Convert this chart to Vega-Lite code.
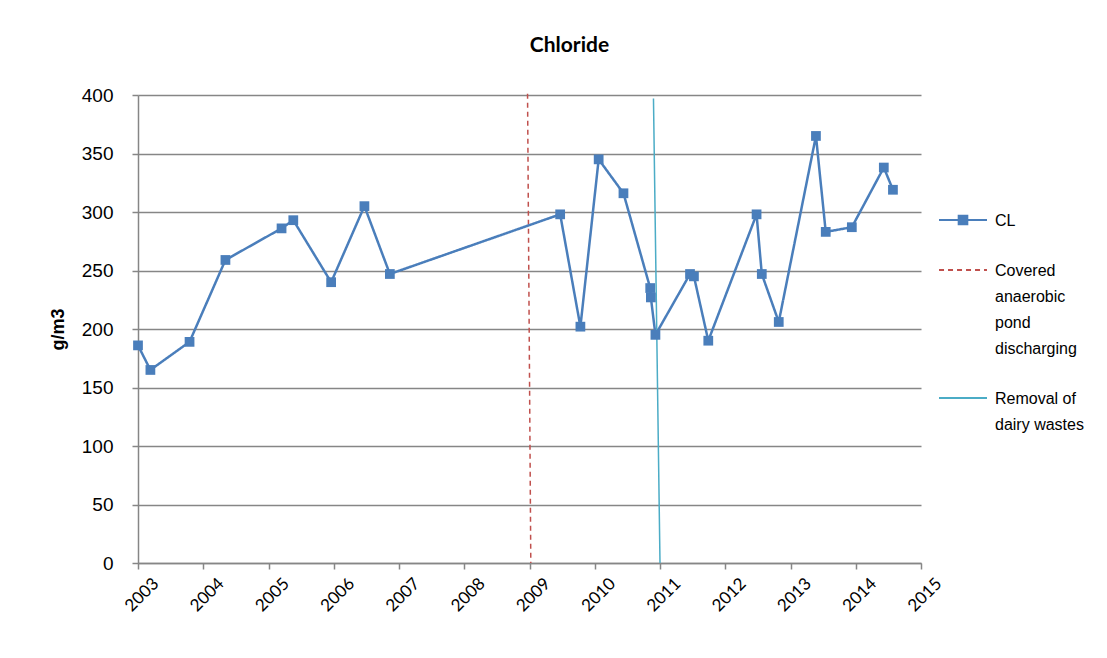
{
  "$schema": "https://vega.github.io/schema/vega-lite/v6.json",
  "autosize": {"type": "none"},
  "padding": {"left": 138, "top": 95, "right": 186, "bottom": 95},
  "width": 783,
  "height": 468,
  "background": "white",
  "title": {"text": "Chloride", "font": "Lato", "fontSize": 21, "fontWeight": "bold", "color": "#000000", "anchor": "middle", "dx": 40, "offset": 30},
  "config": {
    "view": {"stroke": null},
    "axis": {"gridColor": "#868686", "gridWidth": 1.5, "domainColor": "#868686", "domainWidth": 1.5, "tickColor": "#868686", "tickWidth": 1.5, "labelColor": "#000000", "titleColor": "#000000"}
  },
  "data": {
    "values": [
      {"date": 2003.0, "value": 186, "series": "CL"},
      {"date": 2003.19, "value": 165, "series": "CL"},
      {"date": 2003.79, "value": 189, "series": "CL"},
      {"date": 2004.34, "value": 259, "series": "CL"},
      {"date": 2005.2, "value": 286, "series": "CL"},
      {"date": 2005.38, "value": 293, "series": "CL"},
      {"date": 2005.96, "value": 240, "series": "CL"},
      {"date": 2006.47, "value": 305, "series": "CL"},
      {"date": 2006.86, "value": 247, "series": "CL"},
      {"date": 2009.47, "value": 298, "series": "CL"},
      {"date": 2009.78, "value": 202, "series": "CL"},
      {"date": 2010.06, "value": 345, "series": "CL"},
      {"date": 2010.44, "value": 316, "series": "CL"},
      {"date": 2010.85, "value": 235, "series": "CL"},
      {"date": 2010.86, "value": 227, "series": "CL"},
      {"date": 2010.93, "value": 195, "series": "CL"},
      {"date": 2011.46, "value": 247, "series": "CL"},
      {"date": 2011.52, "value": 245, "series": "CL"},
      {"date": 2011.74, "value": 190, "series": "CL"},
      {"date": 2012.48, "value": 298, "series": "CL"},
      {"date": 2012.56, "value": 247, "series": "CL"},
      {"date": 2012.82, "value": 206, "series": "CL"},
      {"date": 2013.39, "value": 365, "series": "CL"},
      {"date": 2013.54, "value": 283, "series": "CL"},
      {"date": 2013.94, "value": 287, "series": "CL"},
      {"date": 2014.43, "value": 338, "series": "CL"},
      {"date": 2014.57, "value": 319, "series": "CL"},
      {"date": 2009.02, "value": 0, "series": "Covered anaerobic pond discharging"},
      {"date": 2008.97, "value": 401, "series": "Covered anaerobic pond discharging"},
      {"date": 2011.0, "value": 0, "series": "Removal of dairy wastes"},
      {"date": 2010.9, "value": 397, "series": "Removal of dairy wastes"}
    ]
  },
  "encoding": {
    "x": {"field": "date", "type": "quantitative", "scale": {"domain": [2003, 2015], "nice": false, "zero": false},
      "axis": {"title": null, "grid": false, "values": [2003,2004,2005,2006,2007,2008,2009,2010,2011,2012,2013,2014,2015], "format": "d", "labelAngle": -45, "labelAlign": "right", "labelBaseline": "top", "labelFont": "Lato", "labelFontSize": 17, "tickSize": 6, "labelPadding": 6, "labelOffset": 12, "labelFlush": false, "labelOverlap": false}},
    "y": {"field": "value", "type": "quantitative", "scale": {"domain": [0, 400], "nice": false},
      "axis": {"title": "g/m3", "titleFont": "Liberation Sans", "titleFontSize": 18, "titleFontWeight": "bold", "titlePadding": 14, "values": [0,50,100,150,200,250,300,350,400], "labelFont": "Liberation Sans", "labelFontSize": 19, "tickSize": 6, "labelPadding": 19}},
    "color": {"field": "series", "type": "nominal",
      "scale": {"domain": ["CL", "Covered anaerobic pond discharging", "Removal of dairy wastes"], "range": ["#4a7ebb", "#c0504d", "#4bacc6"]},
      "legend": {"title": null, "orient": "none", "legendX": 800, "legendY": 100, "labelFont": "Liberation Sans", "labelFontSize": 16, "labelColor": "#000000", "symbolType": "stroke", "symbolSize": 2300, "symbolStrokeWidth": 2, "rowPadding": 16, "labelBaseline": "top", "labelOffset": 7,
        "labelExpr": "datum.label == 'CL' ? 'CL' : datum.label == 'Removal of dairy wastes' ? ['Removal of', 'dairy wastes'] : ['Covered', 'anaerobic', 'pond', 'discharging']",
        "encode": {
          "labels": {"update": {"lineHeight": {"value": 26}, "dy": {"value": -7}}},
          "symbols": {"update": {
            "shape": {"signal": "datum.value == 'CL' ? 'M-1,0L1,0M-0.18,-0.18h0.36v0.36h-0.36Z' : 'stroke'"},
            "fill": {"signal": "datum.value == 'CL' ? '#4a7ebb' : 'transparent'"}
          }}
        }}},
    "strokeDash": {"field": "series", "type": "nominal",
      "scale": {"domain": ["CL", "Covered anaerobic pond discharging", "Removal of dairy wastes"], "range": [[1, 0], [5, 4], [1, 0]]},
      "legend": null}
  },
  "layer": [
    {"transform": [{"filter": "datum.series != 'CL'"}], "mark": {"type": "line", "strokeWidth": 1.5, "clip": false}},
    {"transform": [{"filter": "datum.series == 'CL'"}], "mark": {"type": "line", "strokeWidth": 2.5, "point": {"shape": "square", "filled": true, "size": 95, "opacity": 1}}}
  ]
}
